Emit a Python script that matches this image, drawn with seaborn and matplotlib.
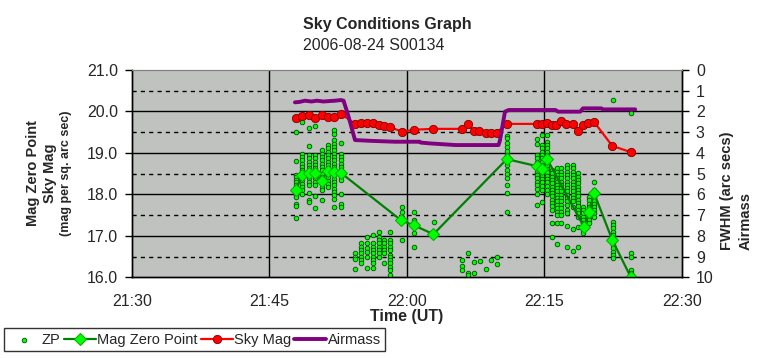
import numpy as np
import pandas as pd
import seaborn as sns
import matplotlib.pyplot as plt
from matplotlib.ticker import FuncFormatter, MultipleLocator


# time is in minutes after 21:00 UT

# ZP single measurements, one column of values per exposure time
zp_times = [47.9, 48.6, 49.3, 50.0, 50.7, 51.4, 52.1, 52.8,
            54.35, 55.0, 55.65, 56.3, 56.96, 57.54, 58.2,
            59.43, 60.75, 62.93,
            65.98, 66.67, 67.29, 67.94, 68.6, 69.2, 69.83,
            70.88, 74.16, 74.7, 75.25, 75.8, 76.34, 76.8, 77.43, 78.08,
            78.66, 79.24, 79.82, 80.4, 82.44, 84.4]
zp_mags = [
    [19.50, 18.81, 18.47, 18.41, 18.35, 18.29, 18.23, 18.17, 18.11, 18.05, 17.99, 17.94, 17.78, 17.72, 17.42],
    [19.75, 18.98, 18.90, 18.82, 18.74, 18.66, 18.58, 18.50, 18.42, 18.34, 18.26, 18.18, 18.10, 18.02],
    [19.61, 19.17, 18.95, 18.87, 18.79, 18.71, 18.63, 18.55, 18.47, 18.39, 18.31, 18.23, 18.03, 17.86, 17.82],
    [19.66, 18.95, 18.87, 18.79, 18.71, 18.63, 18.55, 18.47, 18.39, 18.31, 18.23, 17.96, 17.66],
    [19.06, 18.98, 18.90, 18.82, 18.74, 18.66, 18.58, 18.50, 18.42, 18.26, 18.18, 18.10, 17.86],
    [19.19, 19.11, 19.03, 18.95, 18.87, 18.79, 18.71, 18.63, 18.49, 18.41, 18.33, 18.25, 18.17],
    [19.56, 19.45, 19.30, 19.22, 19.14, 19.06, 18.98, 18.90, 18.82, 18.74, 18.66, 18.46, 18.38, 18.30, 18.22, 18.14, 18.06, 17.98, 17.90, 17.70],
    [19.23, 18.98, 18.90, 18.82, 18.74, 18.66, 18.58, 18.42, 18.34, 18.00, 17.77, 17.70],
    [16.59, 16.50, 16.43, 16.20],
    [16.83, 16.74, 16.66, 16.58, 16.50, 16.42, 16.34],
    [16.98, 16.82, 16.70, 16.62, 16.48, 16.22],
    [17.02, 16.82, 16.74, 16.66, 16.58, 16.50, 16.42, 16.34, 16.22],
    [17.10, 16.98, 16.90, 16.82, 16.74, 16.66, 16.58, 16.50],
    [16.90, 16.82, 16.74, 16.66, 16.58, 16.34],
    [17.10, 16.90, 16.82, 16.74, 16.66, 16.54, 16.50, 16.42, 16.34, 16.26, 16.18, 16.06],
    [17.70, 17.58, 17.46, 17.37, 16.90],
    [17.58, 17.38, 17.30, 17.25, 17.08, 16.74],
    [17.34, 17.04],
    [16.42, 16.28, 16.18],
    [16.59, 16.11, 16.06],
    [16.37, 16.10],
    [16.40],
    [16.20],
    [16.42],
    [16.50, 16.31],
    [19.42, 19.35, 19.25, 19.15, 19.05, 18.95, 18.79, 18.70, 18.60, 18.50, 18.40, 18.23, 18.04, 17.57],
    [19.33, 19.22, 18.95, 18.87, 18.79, 18.71, 18.63, 18.55, 18.47, 18.39, 18.31, 18.23, 18.13, 18.00, 17.74],
    [19.43, 19.19, 19.11, 19.03, 18.95, 18.87, 18.79, 18.71, 18.53, 18.45, 18.37, 18.29, 18.21, 18.10, 17.82],
    [19.43, 19.27, 19.19, 19.11, 19.03, 18.95, 18.77, 18.69, 18.61, 18.53, 18.45, 18.37, 18.29, 18.21, 18.10, 18.00],
    [18.59, 18.51, 18.43, 18.35, 18.27, 18.19, 18.11, 18.03, 17.95, 17.87, 17.79, 17.71, 17.62, 17.30, 16.96],
    [18.63, 18.55, 18.47, 18.39, 18.31, 18.23, 18.15, 18.07, 17.99, 17.91, 17.83, 17.75, 17.67, 17.58, 17.50, 17.30, 16.80],
    [18.63, 18.55, 18.47, 18.39, 18.31, 18.23, 18.15, 18.07, 17.99, 17.91, 17.83, 17.75, 17.67, 17.58, 17.50, 17.30],
    [18.71, 18.63, 18.55, 18.47, 18.39, 18.31, 18.23, 18.15, 18.07, 17.99, 17.91, 17.83, 17.75, 17.63, 17.55, 17.24, 16.72],
    [18.71, 18.63, 18.55, 18.47, 18.39, 18.31, 18.23, 18.15, 18.07, 17.99, 17.91, 17.83, 17.70, 17.16, 16.64],
    [18.51, 18.43, 18.35, 18.27, 18.19, 18.11, 18.03, 17.95, 17.87, 17.79, 17.71, 17.62, 17.54, 17.46, 17.22, 16.74],
    [17.70, 17.62, 17.54, 17.46, 17.38, 17.30, 17.22, 17.14, 17.06],
    [17.94, 17.86, 17.78, 17.70, 17.62, 17.54, 17.46, 17.38, 17.30],
    [18.31, 18.10, 18.02, 17.94, 17.86, 17.78, 17.70, 17.62, 17.54, 17.46],
    [20.28, 17.34, 17.26, 17.18, 17.10, 17.02, 16.94, 16.86, 16.78, 16.70, 16.62, 16.54, 16.46],
    [19.97, 16.59, 16.50, 16.18, 16.10, 16.02, 15.98],
]

# mean zero point
mzp_time = [47.9, 48.6, 49.3, 50.0, 50.7, 51.4, 52.1, 52.8, 59.4, 60.8,
            62.9, 70.9, 74.2, 74.7, 75.3, 79.3, 79.9, 80.4, 82.4, 84.4]
mzp_mag = [18.11, 18.47, 18.51, 18.52, 18.33, 18.57, 18.54, 18.52, 17.37, 17.25,
           17.04, 18.85, 18.68, 18.61, 18.85, 17.22, 17.58, 18.04, 16.90, 16.01]

# sky brightness
sky_time = [47.9, 48.6, 49.3, 50.0, 50.7, 51.4, 52.1, 52.8, 54.4, 55.0,
            55.7, 56.3, 57.0, 57.5, 58.2, 59.5, 60.8, 62.9, 66.0, 66.7,
            67.3, 67.9, 68.6, 69.2, 69.8, 70.9, 74.2, 74.7, 75.3, 75.8,
            76.3, 76.8, 77.4, 78.1, 78.7, 79.2, 79.8, 80.4, 82.4, 84.4]
sky_mag = [19.85, 19.90, 19.92, 19.85, 19.92, 19.87, 19.87, 19.95, 19.69, 19.71,
           19.71, 19.71, 19.67, 19.65, 19.62, 19.51, 19.56, 19.58, 19.58, 19.70,
           19.53, 19.53, 19.49, 19.49, 19.49, 19.70, 19.70, 19.69, 19.71, 19.68,
           19.68, 19.78, 19.69, 19.69, 19.53, 19.68, 19.73, 19.75, 19.17, 19.02]

# airmass (right axis)
air_time = [47.8, 48.3, 48.9, 49.6, 50.2, 50.9, 51.5, 52.2, 52.8, 53.1,
            53.6, 54.35, 56.2, 58.7, 61.4, 61.5, 62.5, 65.3, 70.0, 70.15,
            70.7, 71.1, 76.2, 76.5, 78.9, 79.2, 81.2, 81.4, 84.9]
air_val = [1.56, 1.54, 1.48, 1.52, 1.48, 1.52, 1.50, 1.48, 1.45, 1.48,
           2.18, 3.38, 3.42, 3.46, 3.46, 3.50, 3.54, 3.62, 3.62, 3.40,
           2.01, 1.93, 1.93, 2.01, 2.01, 1.85, 1.85, 1.90, 1.90]

x_ticks = [30, 45, 60, 75, 90]


zp_df = pd.DataFrame({"time": zp_times, "mag": zp_mags}).explode("mag")
zp_df["mag"] = zp_df["mag"].astype(float)
mzp_df = pd.DataFrame({"time": mzp_time, "mag": mzp_mag})
sky_df = pd.DataFrame({"time": sky_time, "mag": sky_mag})
air_df = pd.DataFrame({"time": air_time, "air": air_val})

sns.set_style("white")
plt.rcParams["font.family"] = ["Liberation Sans", "DejaVu Sans"]

fig = plt.figure(figsize=(7.64, 3.58), dpi=100)
ax = fig.add_axes([131.7 / 764, 80.7 / 358, 550.3 / 764, 207.3 / 358])
ax.set_facecolor("#c0c2c0")

# grid
for y in [17, 18, 19, 20]:
    ax.axhline(y, color="black", lw=1, zorder=1)
for y in [16.5, 17.5, 18.5, 19.5, 20.5]:
    ax.axhline(y, color="black", lw=1, ls=(0, (3, 3)), zorder=1)
for x in [45, 60, 75]:
    ax.axvline(x, color="black", lw=1, zorder=1)

sns.scatterplot(data=zp_df, x="time", y="mag", ax=ax, s=11, color="#00ff00",
                edgecolor="#004d00", linewidth=0.6, label="ZP", zorder=3)
sns.lineplot(data=mzp_df, x="time", y="mag", ax=ax, estimator=None, sort=False,
             color="#008000", lw=1.6, marker="D", markersize=6,
             markerfacecolor="#00ff00", markeredgecolor="#00b000",
             label="Mag Zero Point", zorder=4)
sns.lineplot(data=sky_df, x="time", y="mag", ax=ax, estimator=None, sort=False,
             color="#ff0000", lw=1.6, marker="o", markersize=6,
             markerfacecolor="#ff0000", markeredgecolor="#800000",
             markeredgewidth=0.6, label="Sky Mag", zorder=5)

ax.set_xlim(30, 90)
ax.set_ylim(16, 21)
ax.set_xticks(x_ticks)
ax.xaxis.set_major_formatter(FuncFormatter(lambda v, p: f"{21 + int(v) // 60}:{int(v) % 60:02d}"))
ax.yaxis.set_major_locator(MultipleLocator(1))
ax.yaxis.set_major_formatter(FuncFormatter(lambda v, p: f"{v:.1f}"))
ax.tick_params(axis="x", direction="out", length=5, width=1, color="black",
               pad=7, labelsize=11.5)
ax.tick_params(axis="y", direction="out", length=5, width=1, color="black",
               pad=5, labelsize=11.5, left=True)
ax.set_xlabel("Time (UT)", fontsize=11.5, fontweight="bold", labelpad=0)
ax.set_ylabel("")

ax2 = ax.twinx()
sns.lineplot(data=air_df, x="time", y="air", ax=ax2, estimator=None, sort=False,
             color="#800080", lw=2.8, label="Airmass", zorder=6)
ax2.set_ylim(10, 0)
ax2.set_yticks(range(0, 11))
ax2.tick_params(axis="y", direction="out", length=5, width=1, color="black",
                pad=5, labelsize=11.5, right=True)
ax2.set_ylabel("")

for a in (ax, ax2):
    for side in ["left", "right", "bottom"]:
        a.spines[side].set_color("black")
        a.spines[side].set_linewidth(1)
    a.spines["top"].set_color("#808080")

handles, labels = ax.get_legend_handles_labels()
h2, l2 = ax2.get_legend_handles_labels()
for a in (ax, ax2):
    if a.get_legend() is not None:
        a.get_legend().remove()
leg = fig.legend(handles + h2, labels + l2, loc="lower left",
                 bbox_to_anchor=(4 / 764, 7 / 358), ncol=4, fontsize=10.5,
                 frameon=True, fancybox=False, edgecolor="black",
                 handlelength=2.2, handletextpad=0.1, columnspacing=0.2,
                 borderpad=0.3, borderaxespad=0)
leg.get_frame().set_linewidth(1)

# titles
fig.text(303 / 764, 1 - 24 / 358, "Sky Conditions Graph", fontsize=11.5,
         fontweight="bold", ha="left", va="center")
fig.text(303 / 764, 1 - 45 / 358, "2006-08-24 S00134", fontsize=11.5,
         ha="left", va="center")

# left axis title, three lines
fig.text(33 / 764, 1 - 173 / 358, "Mag Zero Point", rotation=90, fontsize=10.5,
         fontweight="bold", ha="center", va="center")
fig.text(50 / 764, 1 - 173 / 358, "Sky Mag", rotation=90, fontsize=10.5,
         fontweight="bold", ha="center", va="center")
fig.text(66 / 764, 1 - 173 / 358, "(mag per sq. arc sec)", rotation=90, fontsize=9,
         fontweight="bold", ha="center", va="center")

# right axis title
fig.text(727 / 764, 1 - 250 / 358, "FWHM (arc secs)", rotation=90, fontsize=10.5,
         fontweight="bold", ha="center", va="bottom")
fig.text(746 / 764, 1 - 250 / 358, "Airmass", rotation=90, fontsize=10.5,
         fontweight="bold", ha="center", va="bottom")

fig.savefig("out.png", dpi=100)
